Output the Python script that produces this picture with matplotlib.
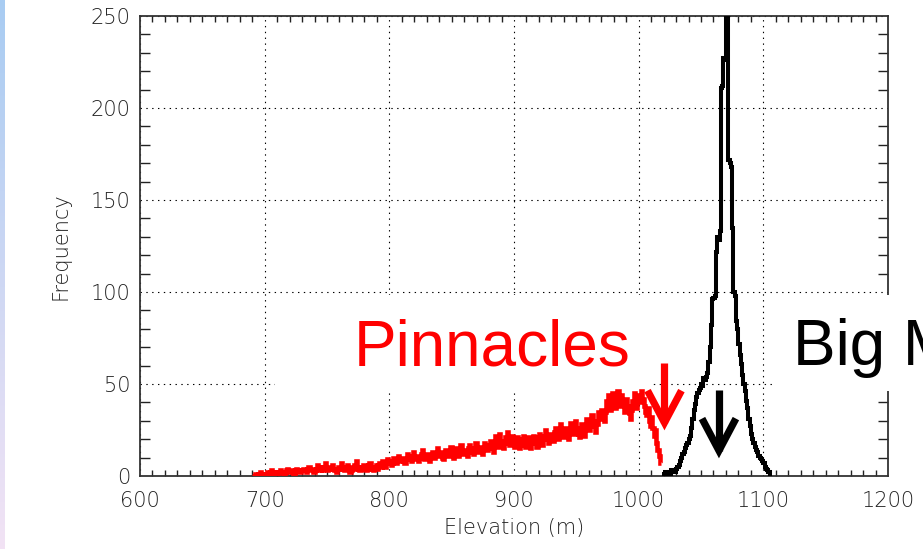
import numpy as np
import matplotlib
matplotlib.use("Agg")
import matplotlib.pyplot as plt
from matplotlib.ticker import MultipleLocator
from matplotlib.patches import Rectangle

# ---------------- data ----------------
# Pinnacles histogram (1 m bins starting at 690 m)
pin_start = 690
pin_bin = 1
pin_counts = [
    0, 0, 1, 1, 0, 1, 2, 1, 1, 0,
    1, 1, 2, 1, 2, 3, 2, 1, 2, 2,
    1, 2, 3, 2, 2, 1, 2, 3, 4, 2,
    2, 3, 2, 1, 3, 4, 3, 2, 2, 3,
    3, 4, 3, 2, 4, 5, 3, 3, 4, 2,
    3, 4, 6, 5, 3, 4, 3, 5, 7, 4,
    3, 4, 5, 4, 6, 4, 3, 2, 4, 5,
    4, 7, 5, 4, 3, 5, 6, 4, 2, 3,
    5, 4, 6, 8, 5, 4, 3, 5, 4, 6,
    5, 3, 4, 6, 7, 5, 4, 3, 5, 6,
    4, 6, 7, 5, 8, 6, 5, 7, 9, 7,
    8, 6, 7, 10, 8, 7, 9, 11, 8, 9,
    10, 8, 7, 9, 12, 10, 9, 8, 11, 13,
    10, 9, 11, 8, 10, 12, 14, 11, 9, 10,
    12, 10, 8, 11, 13, 11, 10, 12, 15, 12,
    11, 13, 10, 9, 12, 14, 12, 11, 13, 16,
    12, 10, 13, 15, 12, 11, 14, 17, 13, 12,
    14, 13, 11, 15, 17, 14, 13, 12, 15, 18,
    15, 13, 16, 14, 12, 15, 18, 16, 14, 17,
    16, 19, 15, 13, 17, 22, 18, 16, 23, 19,
    17, 15, 18, 21, 24, 19, 17, 20, 22, 18,
    16, 19, 21, 18, 15, 17, 20, 22, 19, 16,
    18, 21, 17, 15, 19, 22, 20, 18, 16, 21,
    23, 19, 17, 20, 22, 25, 21, 18, 20, 23,
    21, 19, 24, 26, 22, 20, 23, 28, 24, 21,
    23, 26, 22, 20, 25, 29, 26, 23, 27, 30,
    26, 23, 21, 25, 28, 24, 22, 27, 31, 28,
    25, 29, 33, 30, 27, 24, 28, 35, 31, 33,
    36, 32, 30, 35, 41, 44, 39, 36, 42, 45,
    40, 37, 43, 46, 41, 38, 44, 40, 35, 39,
    42, 38, 34, 31, 36, 41, 45, 40, 37, 43,
    44, 40, 46, 42, 38, 35, 33, 37, 30, 27,
    32, 26, 22, 25, 18, 14, 11, 7,
]

# Big Mountain histogram (1 m bins starting at 1019 m)
big_start = 1019
big_bin = 1
big_counts = [
    1, 0, 2, 1, 1, 2, 1, 3, 2, 3,
    2, 4, 5, 6, 8, 10, 12, 13, 15, 17,
    18, 20, 22, 26, 31, 36, 39, 43, 45, 47,
    48, 50, 49, 53, 52, 54, 56, 62, 70, 82,
    96, 97, 98, 122, 130, 128, 133, 211, 212, 227,
    226, 249, 249, 172, 170, 168, 135, 100, 98, 84,
    80, 72, 66, 61, 55, 50, 46, 41, 37, 31,
    27, 23, 20, 18, 16, 14, 13, 11, 10, 9,
    8, 7, 5, 4, 3, 2, 1, 1,
]

x_ticks = [600, 700, 800, 900, 1000, 1100, 1200]
y_ticks = [0, 50, 100, 150, 200, 250]

# arrow annotations (data units): x, shaft top, visible tip
red_arrow = (1020.7, 61.4, 25.0)
black_arrow = (1064.4, 46.7, 9.8)

# ---------------- figure ----------------
W, H = 923, 549
plt.rcParams["lines.scale_dashes"] = False
fig = plt.figure(figsize=(W / 100, H / 100), dpi=100)
fig.patch.set_facecolor("white")


def fx(px):
    return px / W


def fy(py):
    return 1 - py / H


# left gradient strip (slide background edge)
gax = fig.add_axes([0, 0, 5 / W, 1])
top_c = np.array([0.66, 0.80, 0.95])
bot_c = np.array([0.95, 0.89, 0.96])
t = np.linspace(0, 1, 256)[:, None]
grad = (top_c[None, :] * (1 - t) + bot_c[None, :] * t)[:, None, :]
gax.imshow(grad, aspect="auto", extent=[0, 1, 0, 1])
gax.axis("off")

ax = fig.add_axes([fx(140), fy(476), 748 / W, 460 / H])

pin_edges = pin_start + pin_bin * np.arange(len(pin_counts) + 1)
big_edges = big_start + big_bin * np.arange(len(big_counts) + 1)

ax.stairs(pin_counts, pin_edges, baseline=None, color="#ff0000",
          linewidth=3.3, zorder=4)
ax.stairs(big_counts, big_edges, baseline=None, color="black",
          linewidth=2.9, zorder=4)

ax.set_xlim(600, 1200)
ax.set_ylim(0, 250)
ax.set_xticks(x_ticks)
ax.set_yticks(y_ticks)
ax.xaxis.set_minor_locator(MultipleLocator(10))
ax.yaxis.set_minor_locator(MultipleLocator(10))

ax.set_axisbelow(True)
ax.grid(True, which="major", color="black", linewidth=0.8,
        linestyle=(0, (1.0, 3.2)))

ax.tick_params(which="both", direction="in", top=True, right=True,
               colors="#222222")
ax.tick_params(which="major", length=0, labelsize=15)
ax.tick_params(axis="x", which="major", pad=11)
ax.tick_params(axis="y", which="major", pad=7)
ax.tick_params(axis="x", which="minor", length=4.5, width=1.0)
ax.tick_params(axis="y", which="minor", length=7.5, width=1.0)
for lab in ax.get_xticklabels() + ax.get_yticklabels():
    lab.set_fontweight("light")

for s in ax.spines.values():
    s.set_linewidth(1.3)
    s.set_color("#333333")

ax.set_xlabel("Elevation (m)", fontsize=15, fontweight="light",
              color="#222222", labelpad=5)
ax.set_ylabel("Frequency", fontsize=15, fontweight="light",
              color="#222222", labelpad=14)

# white text boxes (cover the grid, as in the slide)
for (x0, y0, x1, y1) in [(275, 295, 650, 392), (772, 295, 923, 391)]:
    r = Rectangle((fx(x0), fy(y1)), (x1 - x0) / W, (y1 - y0) / H,
                  transform=fig.transFigure, facecolor="white",
                  edgecolor="none", zorder=2.7, clip_on=False)
    ax.add_patch(r)

ax.text(fx(354), fy(366), "Pinnacles", transform=fig.transFigure,
        color="#ff0000", fontsize=46, family="Liberation Sans",
        ha="left", va="baseline", zorder=5, clip_on=False)
ax.text(fx(793), fy(365), "Big Mountain", transform=fig.transFigure,
        color="black", fontsize=46, family="Liberation Sans",
        ha="left", va="baseline", zorder=5, clip_on=False)


def draw_arrow(spec, color):
    x, ytop, ytip = spec
    dx, dy = 13.6, 17.4
    ctip = ytip + 4.0
    ax.plot([x, x], [ytop, ctip], color=color, linewidth=5.2,
            solid_capstyle="butt", zorder=5, clip_on=False)
    ax.plot([x - dx, x, x + dx], [ctip + dy, ctip, ctip + dy], color=color,
            linewidth=5.2, solid_capstyle="butt", solid_joinstyle="miter",
            zorder=5, clip_on=False)


draw_arrow(red_arrow, "#ff0000")
draw_arrow(black_arrow, "black")

fig.savefig("out.png", dpi=100)
